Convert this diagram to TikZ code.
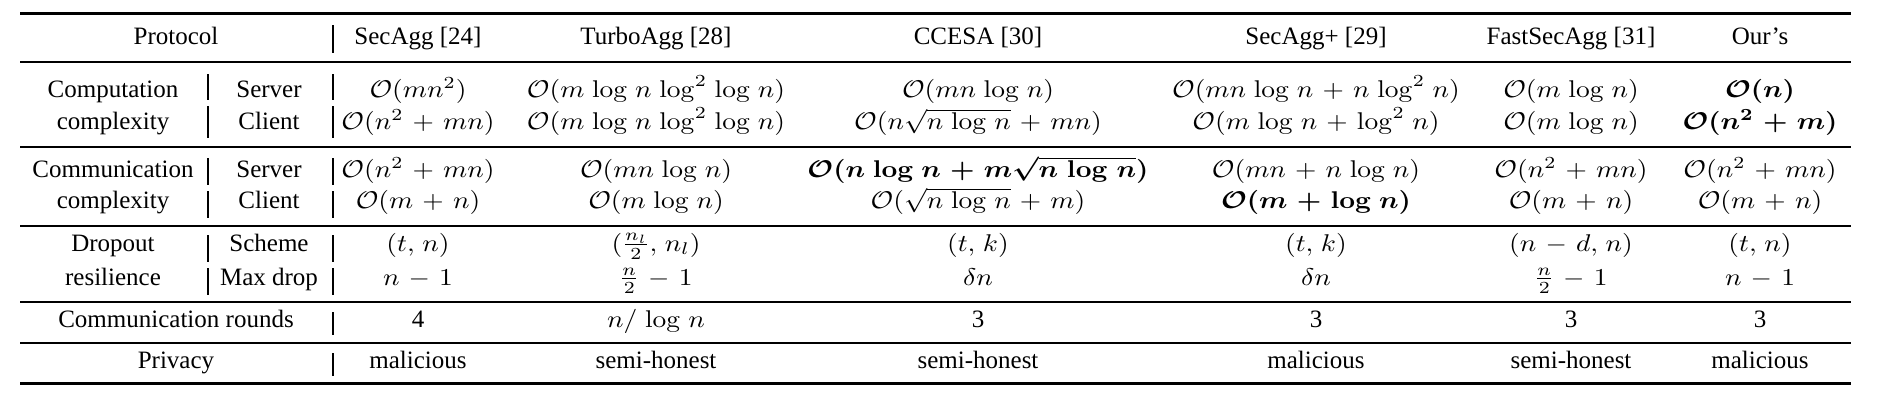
\RequirePackage{fix-cm}
\documentclass[tikz,border=0pt]{standalone}
\usepackage[no-math]{fontspec}
\setmainfont{Liberation Serif}
\usepackage{amsmath,bm,graphicx}
\thinmuskip=5mu
\medmuskip=6mu plus 2mu minus 4mu
\newcommand{\mth}[1]{\scalebox{1}[0.88]{$#1$}}

\begin{document}
\begin{tikzpicture}[x=0.4pt,y=-0.4pt,
    cell/.style={anchor=base,inner sep=0pt,font=\fontsize{10}{12}\selectfont},
    mcell/.style={anchor=base,inner sep=0pt,font=\fontsize{11}{13.2}\selectfont},
    heavyrule/.style={line width=1.2pt},
    lightrule/.style={line width=0.5pt},
    bar/.style={line width=0.6pt}]
    \useasboundingbox (0,0) rectangle (1879,400);

    % rules
    \draw[heavyrule] (20,13)--(1851,13);
    \draw[lightrule] (20,62)--(1851,62);
    \draw[lightrule] (20,147)--(1851,147);
    \draw[lightrule] (20,226)--(1851,226);
    \draw[lightrule] (20,302)--(1851,302);
    \draw[lightrule] (20,343)--(1851,343);
    \draw[heavyrule] (20,383)--(1851,383);
    \draw[bar] (333,25)--(333,53) (333,74)--(333,100) (333,106)--(333,138)
        (333,158)--(333,185) (333,191)--(333,218) (333,235)--(333,262)
        (333,268)--(333,295) (333,312)--(333,335) (333,353)--(333,376);
    \draw[bar] (208,74)--(208,100) (208,106)--(208,138) (208,158)--(208,185)
        (208,191)--(208,218) (208,235)--(208,262) (208,268)--(208,295);

    % header
    \node[cell] (protocol) at (176,44) {Protocol};
    \node[cell] (h-secagg) at (418,44) {SecAgg [24]};
    \node[cell] (h-turbo) at (656,44) {TurboAgg [28]};
    \node[cell] (h-ccesa) at (978,44) {CCESA [30]};
    \node[cell] (h-secaggp) at (1316,44) {SecAgg+ [29]};
    \node[cell] (h-fast) at (1571,44) {FastSecAgg [31]};
    \node[cell] (h-ours) at (1760,44) {Our’s};

    % computation complexity
    \node[cell] (comp-a) at (113,97) {Computation};
    \node[cell] (comp-b) at (113,129) {complexity};
    \node[cell] (comp-s) at (269,97) {Server};
    \node[cell] (comp-c) at (269,129) {Client};
    \node[mcell] (cs-secagg) at (418,97) {\mth{\mathcal{O}(mn^2)}};
    \node[mcell] (cs-turbo) at (656,97) {\mth{\mathcal{O}(m\log n\log^2\log n)}};
    \node[mcell] (cs-ccesa) at (978,97) {\mth{\mathcal{O}(mn\log n)}};
    \node[mcell] (cs-secaggp) at (1316,97) {\mth{\mathcal{O}(mn\log n+n\log^2 n)}};
    \node[mcell] (cs-fast) at (1571,97) {\mth{\mathcal{O}(m\log n)}};
    \node[mcell] (cs-ours) at (1760,97) {\mth{\bm{\mathcal{O}(n)}}};
    \node[mcell] (cc-secagg) at (418,129) {\mth{\mathcal{O}(n^2+mn)}};
    \node[mcell] (cc-turbo) at (656,129) {\mth{\mathcal{O}(m\log n\log^2\log n)}};
    \node[mcell] (cc-ccesa) at (978,129) {\mth{\mathcal{O}(n\sqrt{n\log n}+mn)}};
    \node[mcell] (cc-secaggp) at (1316,129) {\mth{\mathcal{O}(m\log n+\log^2 n)}};
    \node[mcell] (cc-fast) at (1571,129) {\mth{\mathcal{O}(m\log n)}};
    \node[mcell] (cc-ours) at (1760,129) {\mth{\bm{\mathcal{O}(n^2+m)}}};

    % communication complexity
    \node[cell] (comm-a) at (113,177) {Communication};
    \node[cell] (comm-b) at (113,208) {complexity};
    \node[cell] (comm-s) at (269,177) {Server};
    \node[cell] (comm-c) at (269,208) {Client};
    \node[mcell] (ms-secagg) at (418,177) {\mth{\mathcal{O}(n^2+mn)}};
    \node[mcell] (ms-turbo) at (656,177) {\mth{\mathcal{O}(mn\log n)}};
    \node[mcell] (ms-ccesa) at (978,177) {\mth{\bm{\mathcal{O}(n\log n+m\sqrt{n\log n})}}};
    \node[mcell] (ms-secaggp) at (1316,177) {\mth{\mathcal{O}(mn+n\log n)}};
    \node[mcell] (ms-fast) at (1571,177) {\mth{\mathcal{O}(n^2+mn)}};
    \node[mcell] (ms-ours) at (1760,177) {\mth{\mathcal{O}(n^2+mn)}};
    \node[mcell] (mc-secagg) at (418,208) {\mth{\mathcal{O}(m+n)}};
    \node[mcell] (mc-turbo) at (656,208) {\mth{\mathcal{O}(m\log n)}};
    \node[mcell] (mc-ccesa) at (978,208) {\mth{\mathcal{O}(\sqrt{n\log n}+m)}};
    \node[mcell] (mc-secaggp) at (1316,208) {\mth{\bm{\mathcal{O}(m+\log n)}}};
    \node[mcell] (mc-fast) at (1571,208) {\mth{\mathcal{O}(m+n)}};
    \node[mcell] (mc-ours) at (1760,208) {\mth{\mathcal{O}(m+n)}};

    % dropout resilience
    \node[cell] (drop-a) at (113,251) {Dropout};
    \node[cell] (drop-b) at (113,285) {resilience};
    \node[cell] (drop-s) at (269,251) {Scheme};
    \node[cell] (drop-m) at (269,285) {Max drop};
    \node[mcell] (sc-secagg) at (418,251) {\mth{(t,n)}};
    \node[mcell] (sc-turbo) at (656,251) {\mth{(\frac{n_l}{2},n_l)}};
    \node[mcell] (sc-ccesa) at (978,251) {\mth{(t,k)}};
    \node[mcell] (sc-secaggp) at (1316,251) {\mth{(t,k)}};
    \node[mcell] (sc-fast) at (1571,251) {\mth{(n-d,n)}};
    \node[mcell] (sc-ours) at (1760,251) {\mth{(t,n)}};
    \node[mcell] (md-secagg) at (418,285) {\mth{n-1}};
    \node[mcell] (md-turbo) at (656,285) {\mth{\frac{n}{2}-1}};
    \node[mcell] (md-ccesa) at (978,285) {\mth{\delta n}};
    \node[mcell] (md-secaggp) at (1316,285) {\mth{\delta n}};
    \node[mcell] (md-fast) at (1571,285) {\mth{\frac{n}{2}-1}};
    \node[mcell] (md-ours) at (1760,285) {\mth{n-1}};

    % rounds and privacy
    \node[cell] (rounds) at (176,327) {Communication rounds};
    \node[cell] (rd-secagg) at (418,327) {4};
    \node[mcell] (rd-turbo) at (656,327) {\mth{n/\log n}};
    \node[cell] (rd-ccesa) at (978,327) {3};
    \node[cell] (rd-secaggp) at (1316,327) {3};
    \node[cell] (rd-fast) at (1571,327) {3};
    \node[cell] (rd-ours) at (1760,327) {3};
    \node[cell] (privacy) at (176,368) {Privacy};
    \node[cell] (pv-secagg) at (418,368) {malicious};
    \node[cell] (pv-turbo) at (656,368) {semi-honest};
    \node[cell] (pv-ccesa) at (978,368) {semi-honest};
    \node[cell] (pv-secaggp) at (1316,368) {malicious};
    \node[cell] (pv-fast) at (1571,368) {semi-honest};
    \node[cell] (pv-ours) at (1760,368) {malicious};
\end{tikzpicture}
\end{document}
